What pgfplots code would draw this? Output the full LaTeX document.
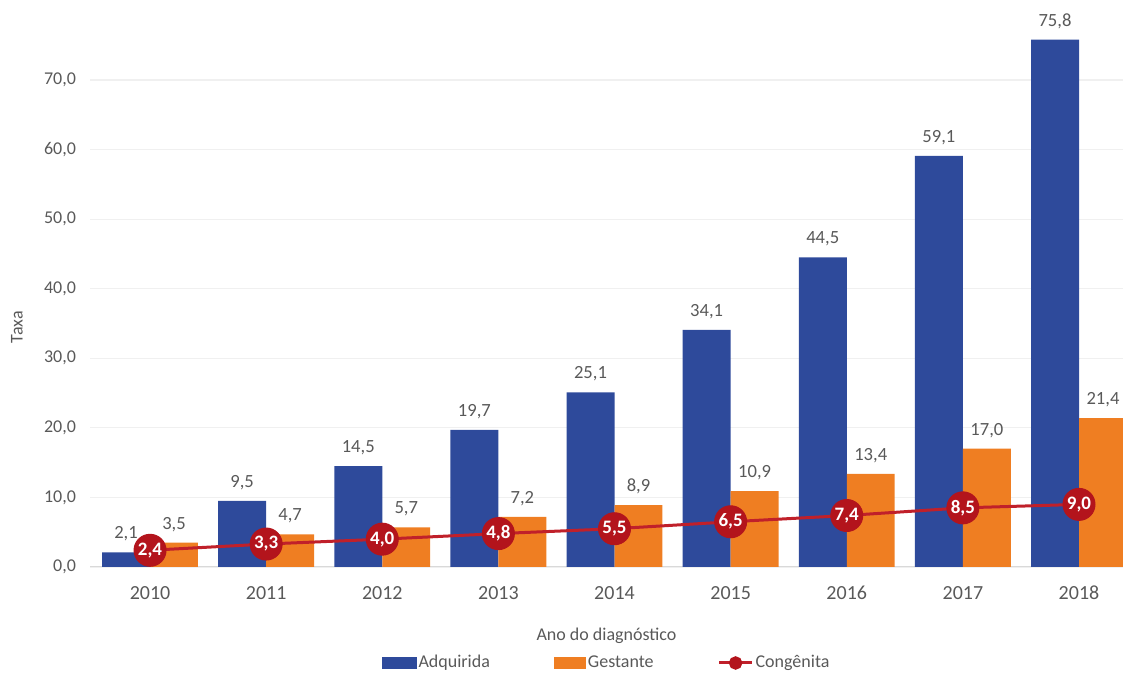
\documentclass[border=0pt]{standalone}
\usepackage{pgfplots}
\pgfplotsset{compat=1.18}
\usepackage{fontspec}
\setmainfont{Carlito}
\definecolor{cblue}{HTML}{2E4A9B}
\definecolor{corange}{HTML}{EF7E22}
\definecolor{cred}{HTML}{C0202A}
\definecolor{cmark}{HTML}{B3141C}
\definecolor{tgray}{HTML}{595959}
\definecolor{grid}{HTML}{F0F0F0}
\definecolor{base}{HTML}{D9D9D9}
\pgfplotstableread{
x a g c
0 2.1 3.5 2.4
1 9.5 4.7 3.3
2 14.5 5.7 4.0
3 19.7 7.2 4.8
4 25.1 8.9 5.5
5 34.1 10.9 6.5
6 44.5 13.4 7.4
7 59.1 17.0 8.5
8 75.8 21.4 9.0
}\datatable
\begin{document}
\begin{tikzpicture}
\begin{axis}[
  scale only axis,
  width=516.5pt, height=283.5pt,
  xmin=-0.517, xmax=8.379, ymin=0, ymax=81.5,
  xtick={0,...,8},
  xticklabels={2010,2011,2012,2013,2014,2015,2016,2017,2018},
  ytick={0,10,...,70},
  /pgf/number format/assume math mode=true,
  yticklabel={\pgfmathprintnumber[fixed,fixed zerofill,precision=1,use comma]{\tick}},
  axis line style={draw=none},
  major tick length=0pt,
  ymajorgrids,
  grid style={draw=grid, line width=0.6pt},
  xticklabel style={font=\fontsize{10}{12}\selectfont, text=tgray, yshift=-6pt},
  yticklabel style={font=\fontsize{9}{11}\selectfont, text=tgray, xshift=-3.5pt},
  xlabel={Ano do diagnóstico},
  ylabel={Taxa},
  xlabel style={at={(axis description cs:0.5,-0.1217)}, anchor=center, font=\fontsize{9}{11}\selectfont, text=tgray},
  ylabel style={at={(axis description cs:-0.0707,0.423)}, anchor=center, font=\fontsize{9}{11}\selectfont, text=tgray},
  legend columns=3,
  legend style={at={(axis description cs:0.5,-0.1693)}, anchor=center, draw=none, fill=none,
    inner sep=0pt, font=\fontsize{9}{11}\selectfont, text=tgray,
    nodes={inner sep=1pt},
    /tikz/every even column/.append style={column sep=31pt}},
  legend cell align=left,
]
\draw[base, line width=0.8pt] (rel axis cs:0,0) -- (rel axis cs:1,0);
\addplot[ybar, bar width=0.413, bar shift=-0.2065, fill=cblue, draw=none,
  nodes near coords={\pgfmathprintnumber[fixed,fixed zerofill,precision=1,use comma]{\pgfplotspointmeta}},
  every node near coord/.append style={font=\fontsize{9.3}{11}\selectfont, text=tgray, yshift=2pt, xshift=-12pt},
  legend image code/.code={\fill[cblue] (0pt,-3pt) rectangle (17.5pt,3pt);}]
  table[x=x, y=a] {\datatable};
\addlegendentry{Adquirida}
\addplot[ybar, bar width=0.413, bar shift=0.2065, fill=corange, draw=none,
  nodes near coords={\pgfmathprintnumber[fixed,fixed zerofill,precision=1,use comma]{\pgfplotspointmeta}},
  every node near coord/.append style={font=\fontsize{9.3}{11}\selectfont, text=tgray, yshift=2pt, xshift=12pt},
  legend image code/.code={\fill[corange] (0pt,-3pt) rectangle (16pt,3pt);}]
  table[x=x, y=g] {\datatable};
\addlegendentry{Gestante}
\addplot[sharp plot, cred, line width=1.5pt, mark=*, mark size=8pt,
  mark options={fill=cmark, draw=cmark, line width=0.5pt},
  nodes near coords={\pgfmathprintnumber[fixed,fixed zerofill,precision=1,use comma]{\pgfplotspointmeta}},
  every node near coord/.append style={anchor=center, font=\bfseries\fontsize{9.5}{11}\selectfont, text=white},
  legend image code/.code={\draw[cred, line width=1.5pt] (0pt,0pt) -- (16.5pt,0pt); \fill[cmark] (8.25pt,0pt) circle (2.6pt);}]
  table[x=x, y=c] {\datatable};
\addlegendentry{Congênita}
\coordinate (bl) at (rel axis cs:0,0);
\coordinate (tr) at (rel axis cs:1,1);
\end{axis}
\pgfresetboundingbox
\path ([shift={(-45pt,-53pt)}]bl) rectangle (tr);
\end{tikzpicture}
\end{document}
